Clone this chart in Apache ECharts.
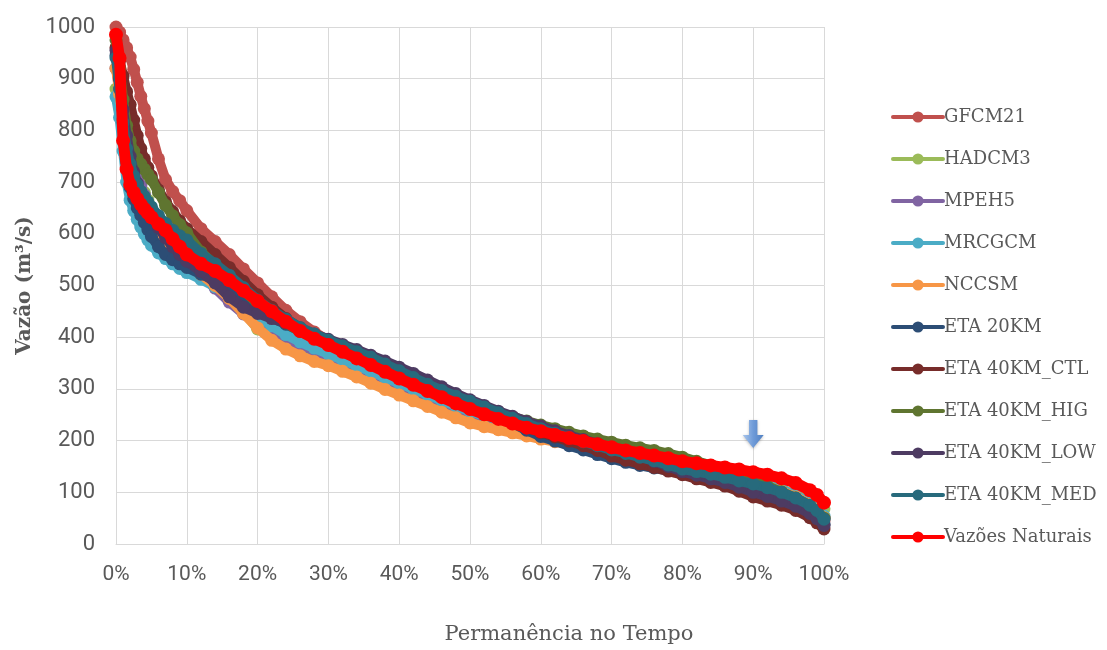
<!DOCTYPE html>
<html>
<head>
<meta charset="utf-8">
<script src="https://cdn.jsdelivr.net/npm/echarts@6/dist/echarts.min.js"></script>
<style>html,body{margin:0;padding:0;background:#fff}#c{width:1107px;height:650px}</style>
</head>
<body>
<div id="c"></div>
<script>
// Permanência (% do tempo)
const permanencia = [0,0.5,1,1.5,2,2.5,3,3.5,4,4.5,5,6,7,8,9,10,12,14,16,18,20,22,24,26,28,30,32,34,36,38,40,42,44,46,48,50,52,54,56,58,60,62,64,66,68,70,72,74,76,78,80,82,84,86,88,90,92,94,96,98,99,100];

const seriesNames = ['GFCM21','HADCM3','MPEH5','MRCGCM','NCCSM','ETA 20KM','ETA 40KM_CTL','ETA 40KM_HIG','ETA 40KM_LOW','ETA 40KM_MED','Vazões Naturais'];

const gfcm21 = [1000,990,975,960,942,918,893,866,842,818,795,745,705,682,664,645,610,585,560,532,505,478,452,430,410,393,378,364,350,337,324,311,299,287,275,264,254,244,235,226,218,210,203,196,189,182,175,168,161,154,147,140,133,126,118,110,102,93,82,68,58,45];
const hadcm3 = [880,845,810,780,755,730,712,695,680,665,650,625,603,585,568,552,528,505,478,450,416,400,384,370,358,348,338,328,317,306,295,285,275,264,254,245,237,229,221,214,208,203,198,193,188,183,178,173,168,163,157,151,145,138,131,123,115,106,95,82,74,68];
const mpeh5 = [920,880,835,790,760,735,712,693,675,660,645,620,598,578,562,548,522,495,468,445,428,412,398,385,374,363,352,340,329,318,307,296,285,274,264,255,246,238,230,222,215,208,201,195,189,183,177,171,165,159,153,147,140,133,126,118,110,101,90,75,65,50];
const mrcgcm = [865,825,760,700,665,645,628,613,600,588,578,563,552,542,533,525,512,498,480,458,440,422,405,391,379,368,356,345,334,322,311,300,289,278,267,257,248,240,232,224,217,210,204,198,192,186,180,174,168,162,156,150,144,137,130,122,114,105,94,79,69,54];
const nccsm = [920,870,820,770,735,708,688,672,657,643,630,607,588,572,558,545,522,500,475,446,418,394,377,364,353,345,334,323,311,299,288,277,266,255,244,234,227,221,215,209,203,198,193,188,183,178,173,168,163,158,153,147,141,134,127,119,111,102,91,76,66,51];
const eta20 = [945,900,820,740,690,668,650,636,622,608,595,575,560,550,542,535,522,510,495,475,455,438,425,412,402,392,382,372,361,350,338,326,314,302,289,276,261,247,234,220,208,199,190,182,173,165,158,152,147,142,137,131,125,119,112,105,97,88,77,63,53,38];
const eta40ctl = [960,935,905,875,850,820,790,765,745,728,712,685,662,643,625,610,585,560,535,508,482,458,436,418,402,389,376,364,351,338,325,312,300,288,276,265,254,244,234,225,216,207,199,190,181,170,162,155,148,141,134,126,119,112,102,91,83,75,65,51,41,29];
const eta40hig = [975,920,860,810,780,760,745,735,725,715,705,680,655,635,618,602,565,540,515,490,465,445,427,411,398,386,374,362,350,338,327,316,305,294,283,273,264,255,246,238,230,223,216,209,203,197,191,186,181,175,168,160,152,143,133,122,112,101,89,74,64,50];
const eta40low = [955,900,840,790,750,720,698,680,665,650,637,612,592,575,560,547,527,505,478,458,446,436,427,417,406,396,386,376,365,354,342,330,317,304,291,279,268,257,247,237,228,219,210,202,194,186,178,170,160,150,140,133,126,119,110,100,92,83,73,59,49,36];
const eta40med = [940,880,815,765,735,712,695,682,672,662,652,635,620,607,596,588,562,542,520,496,472,452,435,419,406,394,383,372,361,348,335,322,309,297,286,276,265,254,243,233,223,214,206,198,190,182,175,168,161,153,145,140,135,129,122,116,109,100,89,75,65,48];
const vazoesNaturais = [985,940,780,725,695,680,668,657,648,640,632,619,607,590,575,560,542,528,510,490,470,450,430,412,397,385,372,359,346,333,320,308,296,284,272,261,251,242,233,225,218,211,205,199,193,187,181,176,171,166,160,156,152,148,144,139,134,127,118,104,95,80];

const seriesValues = [gfcm21,hadcm3,mpeh5,mrcgcm,nccsm,eta20,eta40ctl,eta40hig,eta40low,eta40med,vazoesNaturais];
const seriesColors = ['#C0504D','#9BBB59','#8064A2','#4BACC6','#F79646','#2C4D75','#772C2A','#5F7530','#4D3B62','#276A7C','#FF0000'];

const yTicks = {min:0,max:1000,interval:100};
const xTicks = {min:0,max:100,interval:10};

const series = seriesNames.map((name,i)=>{
  const isNat = name === 'Vazões Naturais';
  const s = {
    name: name,
    type: 'line',
    data: permanencia.map((x,j)=>[x, seriesValues[i][j]]),
    symbol: 'circle',
    symbolSize: isNat ? 14 : 13,
    showSymbol: true,
    color: seriesColors[i],
    lineStyle: {width: isNat ? 11 : 10, color: seriesColors[i], cap:'round', join:'round'},
    itemStyle: {color: seriesColors[i]},
    z: 2 + i,
    animation: false
  };
  if (isNat) {
    s.markPoint = {
      silent: true,
      symbol: 'path://M6,0 L14,0 L14,15 L20,15 L10,28 L0,15 L6,15 Z',
      symbolSize: [21, 28],
      itemStyle: {
        color: new echarts.graphic.LinearGradient(0,0,1,0,[{offset:0,color:'#A9C6EC'},{offset:0.5,color:'#6F9BD8'},{offset:1,color:'#4F7FC2'}]),
        shadowColor:'rgba(0,0,0,0.25)', shadowBlur:3, shadowOffsetY:1
      },
      label: {show:false},
      data: [{coord: [90, 213]}]
    };
  }
  return s;
});

const chart = echarts.init(document.getElementById('c'), null, {renderer:'canvas'});
chart.setOption({
  animation: false,
  backgroundColor: '#ffffff',
  grid: {left: 116, right: 283, top: 27, bottom: 106, containLabel: false},
  xAxis: {
    type: 'value',
    min: xTicks.min, max: xTicks.max, interval: xTicks.interval,
    name: 'Permanência no Tempo',
    nameLocation: 'middle',
    nameGap: 80,
    nameTextStyle: {fontFamily: 'DejaVu Serif', fontSize: 21, color: '#595959', padding: [0,0,0,198]},
    axisLine: {show: true, lineStyle: {color: '#D9D9D9', width: 1}},
    axisTick: {show: false},
    axisLabel: {formatter: '{value}%', fontFamily: 'Roboto', fontSize: 21, color: '#595959', margin: 20},
    splitLine: {show: true, lineStyle: {color: '#D9D9D9', width: 1}}
  },
  yAxis: {
    type: 'value',
    min: yTicks.min, max: yTicks.max, interval: yTicks.interval,
    name: 'Vazão (m³/s)',
    nameLocation: 'middle',
    nameGap: 80,
    nameTextStyle: {fontFamily: 'DejaVu Serif', fontSize: 20, fontWeight: 'bold', color: '#595959'},
    axisLine: {show: false},
    axisTick: {show: false},
    axisLabel: {formatter: function(v){return String(v);}, fontFamily: 'Roboto', fontSize: 22, color: '#595959', margin: 21},
    splitLine: {show: true, lineStyle: {color: '#D9D9D9', width: 1}}
  },
  legend: {
    orient: 'vertical',
    left: 886,
    top: 103,
    itemWidth: 50,
    itemHeight: 14,
    itemGap: 24,
    lineStyle: {width: 4},
    textStyle: {fontFamily: 'DejaVu Serif', fontSize: 18, color: '#595959', padding: [0,0,0,-4]},
    data: seriesNames
  },
  series: series
});
</script>
</body>
</html>
